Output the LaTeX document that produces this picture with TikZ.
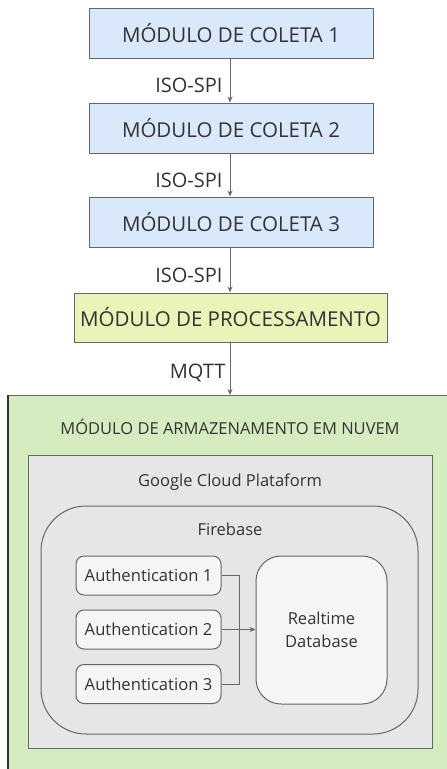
\documentclass[tikz,border=0pt]{standalone}
\usepackage{fontspec}
\setmainfont{Open Sans}
\usetikzlibrary{arrows.meta}
\definecolor{bluefill}{HTML}{DAE8FC}
\definecolor{yelfill}{HTML}{E8F4B8}
\definecolor{grnfill}{HTML}{D4ECC0}
\definecolor{grayfill}{HTML}{E6E6E6}
\definecolor{lightfill}{HTML}{F5F5F5}
\definecolor{strk}{HTML}{666666}
\definecolor{txt}{HTML}{333333}
\tikzset{
  box/.style={draw=strk, line width=1pt, text=txt, inner sep=0pt, align=center},
  bluebox/.style={box, fill=bluefill, minimum width=284pt, minimum height=50pt, font=\fontsize{20.5}{24}\selectfont},
  authbox/.style={box, fill=lightfill, rounded corners=8pt, minimum width=145pt, minimum height=39pt, font=\fontsize{16.6}{20}\selectfont},
  conn/.style={draw=strk, line width=1pt, -{Stealth[length=6pt,width=5pt]}},
  lbl/.style={text=txt, font=\fontsize{20}{24}\selectfont, inner sep=0pt, xshift=-7pt},
}
\begin{document}
\begin{tikzpicture}[x=1pt,y=-1pt]
\useasboundingbox (0,0) rectangle (447,769);
% top chain
\node[bluebox] (c1) at (231,33) {MÓDULO DE COLETA 1};
\node[bluebox] (c2) at (231,128) {MÓDULO DE COLETA 2};
\node[bluebox] (c3) at (231,222) {MÓDULO DE COLETA 3};
\node[box, fill=yelfill, minimum width=313pt, minimum height=49pt, font=\fontsize{20.5}{24}\selectfont] (proc) at (230.5,317.5) {MÓDULO DE PROCESSAMENTO};
% storage
\draw[draw=strk, line width=1pt, fill=grnfill] (8,395) rectangle (452,775);
\draw[draw=txt, line width=1.5pt] (8,395) -- (8,775);
\coordinate (stTop) at (230,395);
\node[text=txt, font=\fontsize{16.5}{20}\selectfont] (sttitle) at (230,427) {MÓDULO DE ARMAZENAMENTO EM NUVEM};
% GCP
\draw[draw=strk, line width=1pt, fill=grayfill] (28,455) rectangle (432,748);
\node[text=txt, font=\fontsize{16.5}{20}\selectfont] (gcp) at (230,482) {Google Cloud Plataform};
% Firebase
\draw[draw=strk, line width=1pt, fill=grayfill, rounded corners=45pt] (41,506) rectangle (418,734);
\node[text=txt, font=\fontsize{16.5}{20}\selectfont] (fb) at (230,529) {Firebase};
% auth
\node[authbox] (a1) at (148.5,575.5) {Authentication 1};
\node[authbox] (a2) at (148.5,629.5) {Authentication 2};
\node[authbox] (a3) at (148.5,684) {Authentication 3};
\node[box, fill=lightfill, rounded corners=25pt, minimum width=131pt, minimum height=148pt, font=\fontsize{16.5}{23}\selectfont] (rtd) at (321.5,630) {Realtime\\Database};
% connectors
\draw[conn] (c1.south -| 230,0) -- node[lbl, anchor=east, pos=0.62] {ISO-SPI} (c2.north -| 230,0);
\draw[conn] (c2.south -| 230,0) -- node[lbl, anchor=east, pos=0.62] {ISO-SPI} (c3.north -| 230,0);
\draw[conn] (c3.south -| 230,0) -- node[lbl, anchor=east, pos=0.62] {ISO-SPI} (proc.north -| 230,0);
\draw[conn] (proc.south -| 230,0) -- node[lbl, anchor=east, pos=0.58, xshift=3pt] {MQTT} (stTop);
\coordinate (j) at (239,629.5);
\draw[draw=strk, line width=1pt] (a1.east) -| (j);
\draw[draw=strk, line width=1pt] (a3.east) -| (j);
\draw[conn] (a2.east) -- (rtd.west |- a2.east);
\end{tikzpicture}
\end{document}
